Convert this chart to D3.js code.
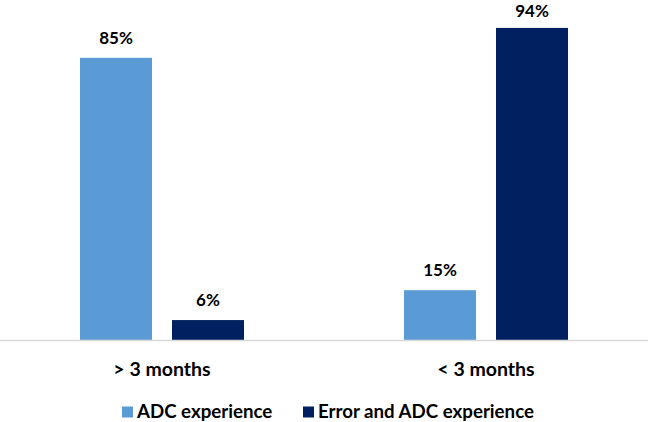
<!DOCTYPE html>
<html>
<head>
<meta charset="utf-8">
<script src="https://cdn.jsdelivr.net/npm/d3@7"></script>
<style>
  html, body { margin: 0; padding: 0; background: #fff; }
  svg { display: block; }
  text { font-family: Lato, "Open Sans", sans-serif; font-weight: bold; fill: #000; }
</style>
</head>
<body>
<svg id="chart" width="648" height="422"></svg>
<script>
const categories = ["> 3 months", "< 3 months"];
const seriesNames = ["ADC experience", "Error and ADC experience"];
const adcExperience = [85, 15];
const errorAndAdc = [6, 94];
const seriesColors = ["#5B9BD5", "#002060"];

const seriesValues = [adcExperience, errorAndAdc];
const data = categories.map((c, i) => ({
  category: c,
  values: seriesNames.map((s, j) => ({ series: s, value: seriesValues[j][i], color: seriesColors[j] }))
}));

const W = 648, H = 422;
const svg = d3.select("#chart");

const x0 = d3.scaleBand().domain(categories).range([0, W])
  .paddingInner(160 / 324).paddingOuter(80 / 324);
const x1 = d3.scaleBand().domain(seriesNames).range([0, x0.bandwidth()])
  .paddingInner(20 / 92).paddingOuter(0);
const y = d3.scaleLinear().domain([0, 100]).range([340, 8]);

const groups = svg.append("g").selectAll("g").data(data).join("g")
  .attr("transform", d => `translate(${x0(d.category)},0)`);

groups.selectAll("rect").data(d => d.values).join("rect")
  .attr("x", d => x1(d.series))
  .attr("width", x1.bandwidth())
  .attr("y", d => y(d.value))
  .attr("height", d => y(0) - y(d.value))
  .attr("fill", d => d.color);

groups.selectAll("text.val").data(d => d.values).join("text")
  .attr("class", "val")
  .attr("x", d => x1(d.series) + x1.bandwidth() / 2)
  .attr("y", d => Math.max(y(d.value) - 14, 17))
  .attr("text-anchor", "middle")
  .style("font-size", "17px")
  .text(d => d.value + "%");

// baseline axis
const xAxis = d3.axisBottom(x0).tickSize(0).tickPadding(22);
const axisG = svg.append("g").attr("transform", `translate(0,${y(0)})`).call(xAxis);
axisG.select(".domain").remove();
axisG.selectAll("text").style("font-size", "19.5px").style("font-family", "Lato, sans-serif").attr("fill", "#000");
svg.append("line").attr("x1", 0).attr("x2", W).attr("y1", y(0) + 0.5).attr("y2", y(0) + 0.5)
  .attr("stroke", "#d9d9d9").attr("stroke-width", 1.5);

// legend
const legendItems = [
  { name: seriesNames[0], color: seriesColors[0], x: 122 },
  { name: seriesNames[1], color: seriesColors[1], x: 303 }
];
const lg = svg.append("g").selectAll("g").data(legendItems).join("g")
  .attr("transform", d => `translate(${d.x},412)`);
lg.append("rect").attr("x", 0).attr("y", -5.5).attr("width", 11).attr("height", 11).attr("fill", d => d.color);
lg.append("text").attr("x", 15).attr("y", 5.7)
  .style("font-size", "18.7px").text(d => d.name);
</script>
</body>
</html>
